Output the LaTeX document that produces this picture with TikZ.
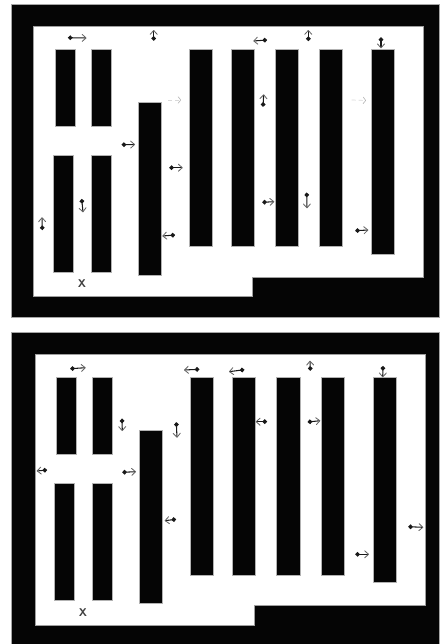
\documentclass[tikz,border=0pt]{standalone}
\usepackage{tikz}
\usetikzlibrary{arrows.meta}

\begin{document}
\begin{tikzpicture}[
    x=0.25mm, y=-0.25mm,
    wall/.style={fill=black!98, draw=gray!70, line width=0.25pt},
    floor/.style={fill=white, draw=gray!75, line width=0.3pt},
    bar/.style={draw=gray!60, line width=0.3pt, fill=black!98, anchor=north west,
                inner sep=0pt, outer sep=0pt},
    move/.style={{Circle[length=3.2pt]}-{Straight Barb[round, length=2.8pt, width=5pt, black!60, line width=0.6pt]},
                 black!90, line width=0.75pt},
    faint/.style={-{Straight Barb[round, length=1.8pt, width=4.6pt, black!30, line width=0.4pt]},
                  black!15, densely dashed, line width=0.5pt},
    xmark/.style={font=\sffamily\bfseries\footnotesize, text=black!75, inner sep=0pt},
  ]
  \useasboundingbox (0,0) rectangle (439,644);

  % ============================== Panel 1 =================================
  \path[wall] (11,4) rectangle (439,317.5);
  \path[floor] (33.5,26) -- (423.7,26) -- (423.7,277) -- (252.7,277)
    -- (252.7,296.5) -- (33.5,296.5) -- cycle;

  \foreach \n/\x/\y/\w/\h in {a/55/49/20/77, b/91/49/20/77, c/53/155/20/117, d/91/155/20/117,
      e/138/102/23/173, f/189/49/23/197, g/231/49/23/197, h/275/49/23/197,
      i/319/49/23/197, j/371/49/23/205} {
    \node[bar, minimum width=\w*0.25mm, minimum height=\h*0.25mm] (top\n) at (\x,\y) {};
  }

  \foreach \n/\xa/\ya/\xb/\yb in {1/68/37.7/86.5/38, 2/153.7/40.7/153.7/30, 3/121.7/144.7/135/144.5,
      4/169.3/167.7/182.7/167.7, 5/175/235/162.3/236, 6/81.7/199/83/212.3, 7/42.3/230/42/217.3,
      8/267/40/253.3/41, 9/308.3/41/308.3/30, 10/381/37.3/381/48.3, 11/263/106.7/263.7/94.3,
      12/262.3/202.3/274.3/201.7, 13/306.7/192.7/307/208.3, 14/355.3/230.7/368.3/230} {
    \coordinate (tfrom\n) at (\xa,\ya);
    \coordinate (tto\n) at (\xb,\yb);
    \draw[move] (tfrom\n) -- (tto\n);
  }

  % hardly visible in the scan
  \coordinate (tfrom15) at (168,100);
  \coordinate (tto15) at (181,100);
  \coordinate (tfrom16) at (351.7,100);
  \coordinate (tto16) at (366,100.5);
  \draw[faint] (tfrom15) -- (tto15);
  \draw[faint] (tfrom16) -- (tto16);

  \node[xmark] (xtop) at (82,284) {X};

  % ============================== Panel 2 =================================
  \path[wall] (11,332) rectangle (439,644);
  \path[floor] (35,354.7) -- (425.7,354.7) -- (425.7,605) -- (254.7,605)
    -- (254.7,625) -- (35,625) -- cycle;

  \foreach \n/\x/\y/\w/\h in {a/56/377.7/20/77, b/92/377.7/20/77, c/54/483.7/20.5/116.6, d/92/483.7/20/116.6,
      e/139/430/23/173.3, f/190.3/377.7/23/197.3, g/232.7/377.7/22.7/197.3, h/276.7/377.7/23.3/197.3,
      i/321/377.7/23/197.3, j/373/377.7/23.3/204.6} {
    \node[bar, minimum width=\w*0.25mm, minimum height=\h*0.25mm] (bot\n) at (\x,\y) {};
  }

  \foreach \n/\xa/\ya/\xb/\yb in {1/70.3/368.7/85.7/367.7, 2/199.3/369.3/184/370, 3/122/418.7/122.3/431,
      4/176.3/422.3/177/437.7, 5/47/470/36.7/471, 6/122.3/472.3/136/471.7, 7/176/519.3/164.7/520.7,
      8/244.3/369.7/229/371.7, 9/310.3/370.7/310/360.7, 10/383/366/382.7/377.3, 11/267/421.7/255.7/421.7,
      12/307.7/422/320.3/420.7, 13/408.3/526.7/423.3/527.3, 14/355.3/554.3/369/554.3} {
    \coordinate (bfrom\n) at (\xa,\ya);
    \coordinate (bto\n) at (\xb,\yb);
    \draw[move] (bfrom\n) -- (bto\n);
  }

  \node[xmark] (xbot) at (83,612.7) {X};
\end{tikzpicture}
\end{document}
